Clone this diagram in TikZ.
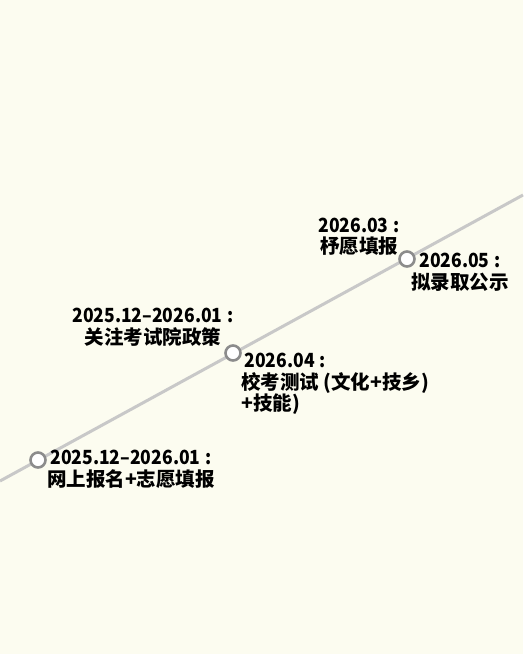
\documentclass[tikz,border=0pt]{standalone}
\usepackage{fontspec}
\setmainfont{Noto Sans CJK SC}
\newfontfamily\datefont{Noto Sans CJK SC}[FakeStretch=0.9]
\usetikzlibrary{positioning}
\definecolor{paper}{RGB}{252,252,240}
\definecolor{track}{RGB}{200,200,200}
\definecolor{ring}{RGB}{140,140,140}
\newcommand{\when}[1]{{\datefont #1\hspace{.25em}:}}

\begin{document}
\begin{tikzpicture}[x=1pt,y=-1pt, stop/.style = {draw=ring, line width=2.6pt, fill=white, circle, minimum size=15pt, inner sep=0pt}, lbl/.style = {font=\fontsize{19.5}{21.5}\selectfont\bfseries, inner sep=0pt, text=black}]
            \fill[paper] (0,0) rectangle (523,654);
            \useasboundingbox (0,0) rectangle (523,654);
            \coordinate (s) at (0,481);
            \coordinate (e) at (523,195);
            \draw[track, line width=3pt] (s) to (e);

            \node[stop] (m1) at (38,460) {};
            \node[stop] (m2) at (233,353) {};
            \node[stop] (m3) at (407,259) {};

            \node[lbl, align=center] (t1) at (131,469.5) {\when{2025.12–2026.01}\\网上报名+志愿填报};
            \node[lbl, align=center] (t2) at (153,327) {\when{2025.12–2026.01}\\关注考试院政策};
            \node[lbl, align=left, anchor=west] (t3) at (241,384) {\,\when{2026.04}\\校考测试 (文化+技乡)\\+技能)};
            \node[lbl, align=center] (t4) at (359,237) {\when{2026.03}\\杼愿填报};
            \node[lbl, align=center] (t5) at (460,272.5) {\when{2026.05}\\拟录取公示};
        \end{tikzpicture}
\end{document}
